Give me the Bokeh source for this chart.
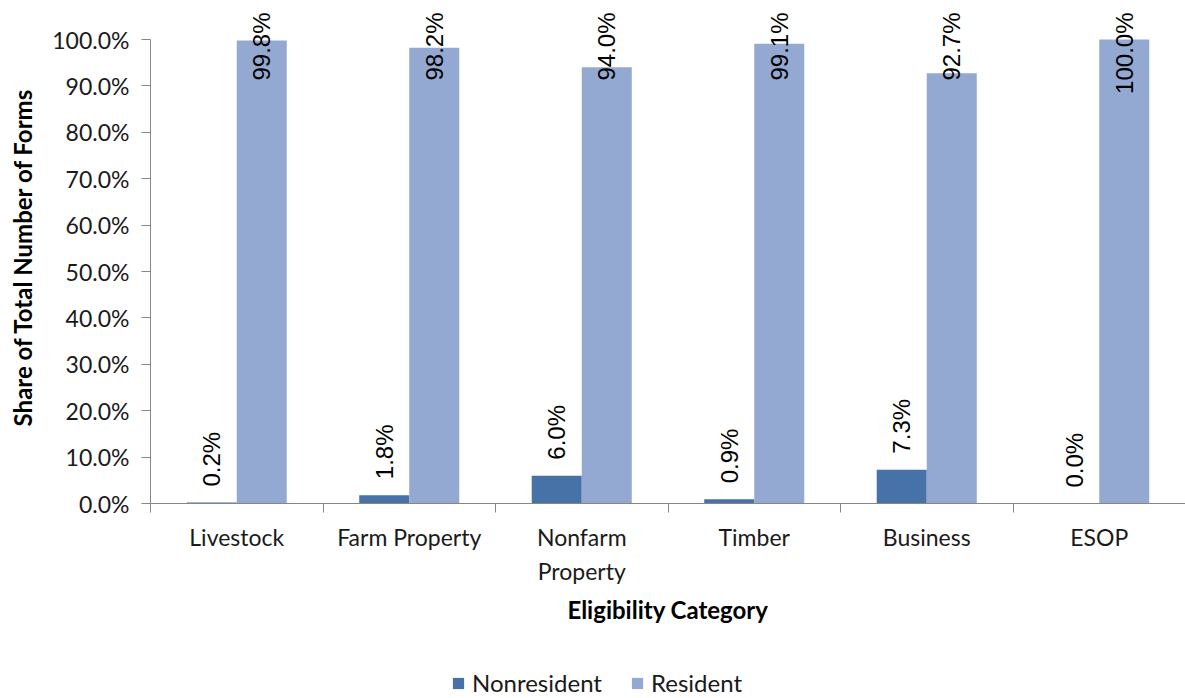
import numpy as np
from bokeh.plotting import figure
from bokeh.layouts import column
from bokeh.models import (ColumnDataSource, Range1d, FixedTicker, PrintfTickFormatter,
                          Legend, LegendItem)
from bokeh.core.properties import value
from bokeh.embed import file_html
from bokeh.resources import INLINE

categories = ["Livestock", "Farm Property", "Nonfarm\nProperty", "Timber", "Business", "ESOP"]
series_names = ["Nonresident", "Resident"]
nonresident = [0.2, 1.8, 6.0, 0.9, 7.3, 0.0]
resident = [99.8, 98.2, 94.0, 99.1, 92.7, 100.0]
y_ticks = [0, 10, 20, 30, 40, 50, 60, 70, 80, 90, 100]

NONRES_COLOR = "#4672A8"
RES_COLOR = "#94A9D1"
AXIS_COLOR = "#868686"
TEXT_COLOR = "#1a1a1a"
Y_END = 106.25
BAR_W = 0.29

n = len(categories)
centers = np.arange(n) + 0.5

src = ColumnDataSource(dict(
    xn=centers - BAR_W / 2,
    xr=centers + BAR_W / 2,
    nonres=nonresident,
    res=resident,
    nonres_lbl=[f"{v:.1f}%" for v in nonresident],
    res_lbl=[f"{v:.1f}%" for v in resident],
    top=[Y_END] * n,
))

p = figure(width=1185, height=655, output_backend="svg", toolbar_location=None,
           x_range=Range1d(0, n), y_range=Range1d(0, Y_END),
           min_border_left=150, min_border_right=0, min_border_top=10,
           min_border_bottom=152)
p.outline_line_color = None
p.xgrid.visible = False
p.ygrid.visible = False
p.background_fill_color = "white"
p.border_fill_color = "white"

p.vbar(x="xn", top="nonres", width=BAR_W, source=src, fill_color=NONRES_COLOR,
       line_color=None)
p.vbar(x="xr", top="res", width=BAR_W, source=src, fill_color=RES_COLOR,
       line_color=None)

# data labels
p.text(x="xn", y="nonres", text="nonres_lbl", source=src, angle=np.pi / 2,
       text_align="left", text_baseline="middle", y_offset=-16,
       text_font=value("Liberation Sans"), text_font_size="24px", text_color="black")
p.text(x="xr", y="top", text="res_lbl", source=src, angle=np.pi / 2,
       text_align="right", text_baseline="middle", y_offset=2,
       text_font=value("Liberation Sans"), text_font_size="24px", text_color="black")

# y axis
ya = p.yaxis[0]
ya.ticker = FixedTicker(ticks=y_ticks)
ya.formatter = PrintfTickFormatter(format="%.1f%%")
ya.bounds = (0, 100)
ya.axis_line_color = AXIS_COLOR
ya.major_tick_line_color = AXIS_COLOR
ya.major_tick_out = 9
ya.major_tick_in = 0
ya.minor_tick_line_color = None
ya.major_label_standoff = 12
ya.major_label_text_font = "Lato"
ya.major_label_text_font_size = "23px"
ya.major_label_text_color = TEXT_COLOR
ya.axis_label = "Share of Total Number of Forms"
ya.axis_label_text_font = "Lato"
ya.axis_label_text_font_style = "bold"
ya.axis_label_text_font_size = "24px"
ya.axis_label_text_color = "black"
ya.axis_label_standoff = 12

# x axis
xa = p.xaxis[0]
xa.ticker = FixedTicker(ticks=list(centers), minor_ticks=list(range(n + 1)))
xa.major_label_overrides = {float(c): lab for c, lab in zip(centers, categories)}
xa.axis_line_color = AXIS_COLOR
xa.major_tick_line_color = None
xa.major_tick_out = 9
xa.major_tick_in = 0
xa.minor_tick_line_color = AXIS_COLOR
xa.minor_tick_out = 9
xa.minor_tick_in = 0
xa.major_label_standoff = 10
xa.major_label_text_font = "Lato"
xa.major_label_text_font_size = "23px"
xa.major_label_text_color = TEXT_COLOR
xa.major_label_text_line_height = 1.23
xa.axis_label = "Eligibility Category"
xa.axis_label_text_font = "Lato"
xa.axis_label_text_font_style = "bold"
xa.axis_label_text_font_size = "24px"
xa.axis_label_text_color = "black"
xa.axis_label_standoff = 7

# legend strip below the chart (frame is aligned with the chart frame)
lg = figure(width=1185, height=43, output_backend="svg", toolbar_location=None,
            x_range=Range1d(0, n), y_range=Range1d(0, 1),
            min_border_left=150, min_border_right=0, min_border_top=0, min_border_bottom=0)
lg.axis.visible = False
lg.xgrid.visible = False
lg.ygrid.visible = False
lg.outline_line_color = None
lg.background_fill_color = "white"
lg.border_fill_color = "white"
# zero-height bars: only their legend swatches show
l1 = lg.vbar(x="xn", top=0, bottom=0, width=BAR_W, source=src,
             fill_color=NONRES_COLOR, line_color=None)
l2 = lg.vbar(x="xr", top=0, bottom=0, width=BAR_W, source=src,
             fill_color=RES_COLOR, line_color=None)

legend = Legend(items=[LegendItem(label=series_names[0], renderers=[l1]),
                       LegendItem(label=series_names[1], renderers=[l2])],
                orientation="horizontal", location=(301, 1),
                label_text_font="Lato", label_text_font_size="24px",
                label_text_color=TEXT_COLOR, glyph_width=14, glyph_height=14,
                label_height=26, label_standoff=7, spacing=28, border_line_color=None,
                background_fill_alpha=0, margin=0, padding=0)
lg.add_layout(legend, "center")

open("out.html", "w").write(file_html(column(p, lg, spacing=0), INLINE))
